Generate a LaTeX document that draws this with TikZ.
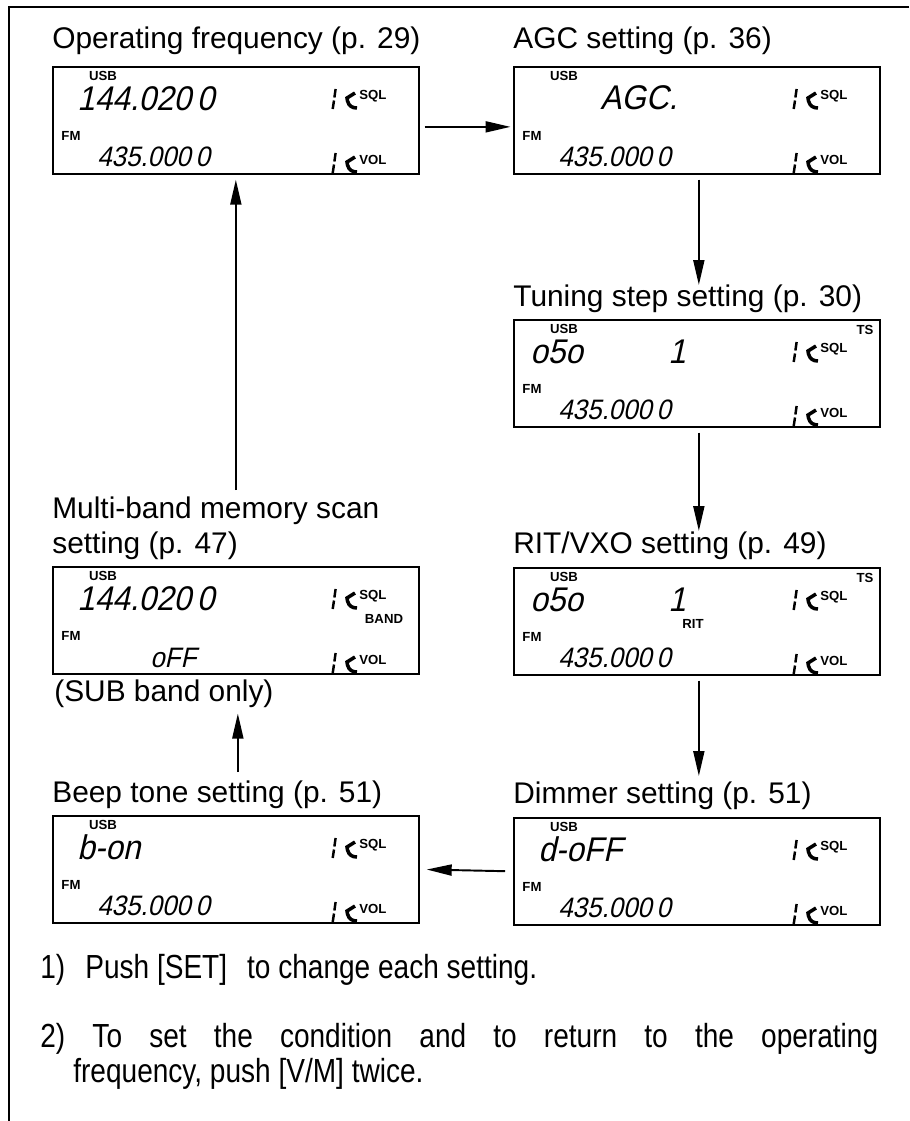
\documentclass[tikz,border=0pt]{standalone}
\usepackage{fontspec}
\setmainfont{Liberation Sans}
\setsansfont{Liberation Sans}
\newfontfamily\lcdfont{Liberation Sans}[FakeSlant=0.22, FakeStretch=0.92]
\newfontfamily\notefont{Liberation Sans}[FakeStretch=0.84]
\usetikzlibrary{positioning,arrows.meta}

\begin{document}
\begin{tikzpicture}[
        x=0.02cm, y=-0.02cm,
        font=\sffamily,
        >={Triangle[length=0.5cm,width=0.22cm]},
        % Styles
        lcd/.style={draw, line width=1pt, minimum width=7.32cm, minimum height=2.14cm, anchor=north west, inner sep=0pt},
        title/.style={anchor=base west, inner sep=0pt, font=\fontsize{17}{20}\selectfont},
        tag/.style={inner sep=0pt, font=\bfseries\fontsize{7.5}{8}\selectfont},
        bigdigits/.style={anchor=west, inner sep=0pt, font=\lcdfont\fontsize{19.5}{20}\selectfont},
        smalldigits/.style={anchor=west, inner sep=0pt, font=\lcdfont\fontsize{16}{16}\selectfont},
        note/.style={anchor=base west, inner sep=0pt, font=\notefont\fontsize{19}{22}\selectfont},
        flow/.style={->, line width=1.1pt},
        frame/.style={line width=1.2pt},
        pics/knob/.style={code={
            \draw[line width=1.4pt] (2.6,-10) -- (1.4,-1.5) (1,1.5) -- (-0.3,10);
            \draw[line width=2pt] (22,-6) -- (14,-1) -- (14.5,2) .. controls (16,7) and (19,9) .. (24,9);
            \node[tag, anchor=west] at (26,-3) {#1};
        }}
    ]

    \useasboundingbox (0,0) rectangle (909,1121);

    % ================= FRAME =================
    \draw[frame] (909,7) -- (9,7) -- (9,1121);

    % ================= TITLES =================
    \node[title] (opT) at (52,49) {Operating frequency (p. 29)};
    \node[title] (agcT) at (513,49) {AGC setting (p. 36)};
    \node[title] (tsT) at (513,307) {Tuning step setting (p. 30)};
    \node[title] (ritT) at (513,553) {RIT/VXO setting (p. 49)};
    \node[title] (dimT) at (513,803) {Dimmer setting (p. 51)};
    \node[title] (beepT) at (52,802) {Beep tone setting (p. 51)};
    \node[title] (mbT) at (52,518) {Multi-band memory scan};
    \node[title] (mbT2) at (52,553) {setting (p. 47)};
    \node[title] (subT) at (54,701) {(SUB band only)};

    % ================= DISPLAYS =================
    % Operating frequency
    \begin{scope}[shift={(52,66)}]
        \node[lcd] (op) at (0,0) {};
        \node[tag] at (51,10) {USB};
        \node[bigdigits] at (25,33) {144.020\,0};
        \pic at (281,33) {knob=SQL};
        \node[tag] at (19,70) {FM};
        \node[smalldigits] at (45,91) {435.000\,0};
        \pic at (281,97) {knob=VOL};
    \end{scope}

    % AGC
    \begin{scope}[shift={(513,66)}]
        \node[lcd] (agc) at (0,0) {};
        \node[tag] at (51,10) {USB};
        \node[bigdigits] at (87,32) {AGC.};
        \pic at (281,33) {knob=SQL};
        \node[tag] at (19,70) {FM};
        \node[smalldigits] at (45,91) {435.000\,0};
        \pic at (281,97) {knob=VOL};
    \end{scope}

    % Tuning step
    \begin{scope}[shift={(513,319)}]
        \node[lcd] (ts) at (0,0) {};
        \node[tag] at (51,10) {USB};
        \node[tag] at (352,11) {TS};
        \node[bigdigits] at (17,33) {o5o};
        \node[bigdigits] at (155,33) {1};
        \pic at (281,33) {knob=SQL};
        \node[tag] at (19,70) {FM};
        \node[smalldigits] at (45,91) {435.000\,0};
        \pic at (281,97) {knob=VOL};
    \end{scope}

    % RIT/VXO
    \begin{scope}[shift={(513,567)}]
        \node[lcd] (rit) at (0,0) {};
        \node[tag] at (51,10) {USB};
        \node[tag] at (352,11) {TS};
        \node[bigdigits] at (17,33) {o5o};
        \node[bigdigits] at (155,33) {1};
        \node[tag] at (180,57) {RIT};
        \pic at (281,33) {knob=SQL};
        \node[tag] at (19,70) {FM};
        \node[smalldigits] at (45,91) {435.000\,0};
        \pic at (281,97) {knob=VOL};
    \end{scope}

    % Dimmer
    \begin{scope}[shift={(513,817)}]
        \node[lcd] (dim) at (0,0) {};
        \node[tag] at (51,10) {USB};
        \node[bigdigits] at (25,32) {d-oFF};
        \pic at (281,33) {knob=SQL};
        \node[tag] at (19,70) {FM};
        \node[smalldigits] at (45,91) {435.000\,0};
        \pic at (281,97) {knob=VOL};
    \end{scope}

    % Beep tone
    \begin{scope}[shift={(52,815)}]
        \node[lcd] (beep) at (0,0) {};
        \node[tag] at (51,10) {USB};
        \node[bigdigits] at (25,32) {b-on};
        \pic at (281,33) {knob=SQL};
        \node[tag] at (19,70) {FM};
        \node[smalldigits] at (45,91) {435.000\,0};
        \pic at (281,97) {knob=VOL};
    \end{scope}

    % Multi-band memory scan
    \begin{scope}[shift={(52,566)}]
        \node[lcd] (mb) at (0,0) {};
        \node[tag] at (51,10) {USB};
        \node[bigdigits] at (25,33) {144.020\,0};
        \pic at (281,33) {knob=SQL};
        \node[tag] at (332,53) {BAND};
        \node[tag] at (19,70) {FM};
        \node[smalldigits] at (98,92) {oFF};
        \pic at (281,97) {knob=VOL};
    \end{scope}

    % ================= ARROWS =================
    \draw[flow] ([xshift=0.1cm,yshift=-0.13cm]op.east) -- ([xshift=-0.05cm,yshift=-0.13cm]agc.west);
    \draw[flow, shorten <=0.1cm] ([xshift=0.04cm]agc.south) -- ([xshift=0.04cm]agc.south |- tsT.north);
    \draw[flow, shorten <=0.1cm] ([xshift=0.04cm]ts.south) -- ([xshift=0.04cm]ts.south |- ritT.north);
    \draw[flow, shorten <=0.1cm, shorten >=0.1cm] ([xshift=0.04cm]rit.south) -- ([xshift=0.04cm]rit.south |- dimT.north);
    \draw[flow, shorten <=0.16cm, shorten >=0.14cm] (dim.west) -- (beep.east);
    \draw[flow, shorten <=0.16cm, shorten >=0.12cm] ([xshift=0.04cm]beep.north |- beepT.north) -- ([xshift=0.04cm]beep.north |- subT.south);
    \draw[flow, shorten <=0.12cm, shorten >=0.1cm] (op.south |- mbT.north) -- (op.south);

    % ================= NOTES =================
    \node[note] (step1) at (40,978) {1)\hspace{0.6em}Push [SET]\hspace{0.6em}to change each setting.};
    \node[note] (step2) at (40,1047) {\makebox[16.76cm][s]{2) To set the condition and to return to the operating}};
    \node[note] (step2b) at (73,1082) {frequency, push [V/M] twice.};

\end{tikzpicture}
\end{document}
